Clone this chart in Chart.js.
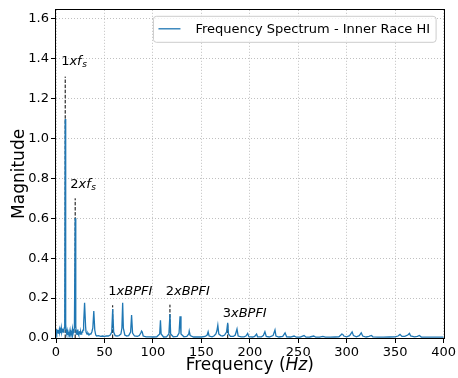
<!DOCTYPE html>
<html><head><meta charset="utf-8">
<script src="https://cdn.jsdelivr.net/npm/chart.js@4.4.1/dist/chart.umd.min.js"></script>
<style>html,body{margin:0;padding:0;background:#fff;}canvas{display:block;}</style>
</head><body>
<canvas id="c" width="458" height="378"></canvas>
<script>
// ---- data ----
const freqs = [0,0.5,1,1.5,2,2.5,3,3.5,4,4.5,5,5.5,6,6.5,7,7.5,8,8.5,9,9.5,10,10.5,11,11.5,12,12.5,13,13.5,14,14.5,15,15.5,16,16.5,17,17.5,18,18.5,19,19.8,20.4,21,21.5,22,22.5,23,23.5,24,24.5,25,25.5,26,26.5,27,27.5,28,28.5,29.5,30.5,31,32,33,34,35,36,37,38,39,40,41,42,44,46,48,50,52,54,56,57.5,58.5,59.5,61,63,65,67,68,68.8,69.5,71,73,75,77,78,79,81,84,86,87.5,88.3,89,90,93,97,100,104,107,107.8,108.5,111,114,116.5,117.6,118.3,121,125,127,128,129,132,135,137,137.5,138.5,142,146,150,154,156,157,158,161,163,165,166,167,168,170,172,174,176,177.2,178,180,183,185,186.8,188,191,194,196,197.8,199,203,205,207,208,212,214,215.6,217,220,224,226,227,230,234,236.4,238,242,245.7,248,252,256,258,262,266,268,272,275.5,278,283,288,292,294,295,296,297,300,303,305.6,307,310,313,315,316.5,320,323,325.5,327,332,338,344,350,353,355,357,360,363,364.8,366,370,373,375,377,382,388,394,400];
const mags = [0.03,0.045,0.02,0.035,0.04,0.025,0.03,0.045,0.03,0.04,0.025,0.05,0.03,0.04,0.045,0.03,0.04,0.05,0.06,1.098,0.07,0.03,0.02,0.035,0.015,0.03,0.02,0.01,0.025,0.04,0.02,0.03,0.035,0.015,0.045,0.02,0.03,0.04,0.05,0.60,0.06,0.02,0.03,0.035,0.015,0.03,0.02,0.025,0.035,0.02,0.03,0.02,0.025,0.03,0.035,0.04,0.07,0.177,0.06,0.03,0.02,0.025,0.015,0.02,0.02,0.03,0.05,0.135,0.04,0.015,0.01,0.012,0.008,0.01,0.008,0.01,0.01,0.015,0.03,0.145,0.03,0.012,0.01,0.012,0.02,0.05,0.177,0.05,0.015,0.01,0.012,0.03,0.115,0.025,0.01,0.008,0.012,0.025,0.035,0.03,0.01,0.006,0.006,0.005,0.006,0.02,0.089,0.02,0.005,0.006,0.02,0.12,0.02,0.006,0.008,0.025,0.109,0.02,0.006,0.008,0.02,0.035,0.012,0.005,0.006,0.005,0.008,0.015,0.031,0.01,0.006,0.01,0.02,0.035,0.064,0.02,0.012,0.01,0.015,0.03,0.076,0.02,0.008,0.008,0.015,0.045,0.01,0.006,0.006,0.01,0.023,0.007,0.005,0.008,0.02,0.006,0.006,0.012,0.031,0.008,0.005,0.012,0.04,0.01,0.005,0.008,0.026,0.006,0.005,0.01,0.004,0.004,0.012,0.004,0.005,0.01,0.004,0.004,0.008,0.004,0.004,0.005,0.006,0.015,0.02,0.018,0.01,0.006,0.012,0.031,0.012,0.006,0.012,0.026,0.01,0.005,0.008,0.013,0.006,0.004,0.004,0.005,0.006,0.01,0.018,0.008,0.008,0.015,0.023,0.01,0.006,0.008,0.013,0.005,0.004,0.004,0.004,0.004];
const seriesLabel = 'Frequency Spectrum - Inner Race HI';
const markerFreqs = [9.5, 19.8, 58.5, 117.6, 177.2];
const markerTops = [1.31, 0.70, 0.164, 0.167, 0.076];
const annoNum = ['1','2','1','2','3'];
const annoVar = ['xf','xf','xBPFI','xBPFI','xBPFI'];
const annoSub = ['s','s','','',''];
const annoX = [5.3, 14.7, 54, 113.2, 172];
const annoY = [1.37, 0.754, 0.218, 0.218, 0.103];
const xTicks = [0,50,100,150,200,250,300,350,400];
const yTicks = [0,0.2,0.4,0.6,0.8,1.0,1.2,1.4,1.6];
const xMin = 0, xMax = 400, yMin = 0, yMax = 1.645;

const FONT = "'DejaVu Sans'";

const framePlugin = {
  id: 'frame',
  afterDatasetsDraw(chart) {
    const {ctx, chartArea: a} = chart;
    ctx.save();
    ctx.strokeStyle = '#000';
    ctx.lineWidth = 1;
    ctx.strokeRect(Math.round(a.left) - 0.5, Math.round(a.top) - 0.5, Math.round(a.right - a.left) + 1, Math.round(a.bottom - a.top) + 1);
    ctx.restore();
  }
};

const annoPlugin = {
  id: 'anno',
  afterDatasetsDraw(chart) {
    const {ctx} = chart;
    const xs = chart.scales.x, ys = chart.scales.y;
    ctx.save();
    ctx.fillStyle = '#000';
    ctx.textBaseline = 'alphabetic';
    ctx.textAlign = 'left';
    for (let i = 0; i < annoNum.length; i++) {
      let px = xs.getPixelForValue(annoX[i]);
      const py = ys.getPixelForValue(annoY[i]);
      ctx.font = '13px ' + FONT;
      ctx.fillText(annoNum[i], px, py);
      px += ctx.measureText(annoNum[i]).width;
      ctx.font = 'italic 13px ' + FONT;
      ctx.fillText(annoVar[i], px, py);
      px += ctx.measureText(annoVar[i]).width;
      if (annoSub[i]) {
        ctx.font = 'italic 9px ' + FONT;
        ctx.fillText(annoSub[i], px + 0.5, py + 2.5);
      }
    }
    // axis titles
    const a = chart.chartArea;
    const cx = (a.left + a.right) / 2;
    const p1 = 'Frequency (', p2 = 'Hz', p3 = ')';
    ctx.font = '17px ' + FONT;
    const w1 = ctx.measureText(p1).width, w3 = ctx.measureText(p3).width;
    ctx.font = 'italic 17px ' + FONT;
    const w2 = ctx.measureText(p2).width;
    let tx = cx - (w1 + w2 + w3) / 2;
    const ty = 370;
    ctx.font = '17px ' + FONT;
    ctx.fillText(p1, tx, ty); tx += w1;
    ctx.font = 'italic 17px ' + FONT;
    ctx.fillText(p2, tx, ty); tx += w2;
    ctx.font = '17px ' + FONT;
    ctx.fillText(p3, tx, ty);
    ctx.save();
    ctx.translate(24, (a.top + a.bottom) / 2);
    ctx.rotate(-Math.PI / 2);
    ctx.textAlign = 'center';
    ctx.fillText('Magnitude', 0, 0);
    ctx.restore();
    ctx.restore();
  }
};

const legendPlugin = {
  id: 'myLegend',
  afterDraw(chart) {
    const {ctx, chartArea: a} = chart;
    ctx.save();
    ctx.font = '13px ' + FONT;
    const tw = ctx.measureText(seriesLabel).width;
    const right = a.right - 7.5, top = a.top + 6.5;
    const h = 26, w = tw + 48;
    const left = right - w;
    ctx.beginPath();
    if (ctx.roundRect) ctx.roundRect(left, top, w, h, 3); else ctx.rect(left, top, w, h);
    ctx.fillStyle = 'rgba(255,255,255,0.8)';
    ctx.fill();
    ctx.strokeStyle = '#cccccc';
    ctx.lineWidth = 1;
    ctx.stroke();
    ctx.beginPath();
    ctx.moveTo(left + 5, top + 12.5);
    ctx.lineTo(left + 27, top + 12.5);
    ctx.strokeStyle = '#1f77b4';
    ctx.lineWidth = 1.3;
    ctx.stroke();
    ctx.fillStyle = '#000';
    ctx.textBaseline = 'middle';
    ctx.fillText(seriesLabel, left + 42, top + 13);
    ctx.restore();
  }
};

const datasets = [{
  label: seriesLabel,
  data: freqs.map((f, i) => ({x: f, y: mags[i]})),
  borderColor: '#1f77b4',
  borderWidth: 1.3,
  pointRadius: 0,
  tension: 0,
  fill: false
}];
markerFreqs.forEach((f, i) => {
  datasets.push({
    label: 'marker' + i,
    data: [{x: f, y: 0}, {x: f, y: markerTops[i]}],
    borderColor: '#000',
    borderWidth: 1,
    borderDash: [3.5, 1.6],
    pointRadius: 0,
    fill: false
  });
});

const tickFont = {family: 'DejaVu Sans', size: 13};
new Chart(document.getElementById('c').getContext('2d'), {
  type: 'line',
  data: {datasets},
  options: {
    responsive: false,
    animation: false,
    devicePixelRatio: 1,
    layout: {padding: {left: 0, right: 13, top: 7, bottom: 0}},
    plugins: {legend: {display: false}, tooltip: {enabled: false}},
    scales: {
      x: {
        type: 'linear', min: xMin, max: xMax,
        afterFit: s => { s.height = 40; },
        afterBuildTicks: s => { s.ticks = xTicks.map(v => ({value: v})); },
        ticks: {font: tickFont, color: '#000', padding: 2, maxRotation: 0, autoSkip: false, callback: v => String(v)},
        grid: {color: '#b0b0b0', lineWidth: 0.8, tickColor: '#000', tickLength: 5, tickWidth: 1, tickBorderDash: []},
        border: {display: false, dash: [1, 2]}
      },
      y: {
        type: 'linear', min: yMin, max: yMax,
        afterFit: s => { s.width = 56; },
        afterBuildTicks: s => { s.ticks = yTicks.map(v => ({value: v})); },
        ticks: {font: tickFont, color: '#000', padding: 2, autoSkip: false, callback: v => v.toFixed(1)},
        grid: {color: '#b0b0b0', lineWidth: 0.8, tickColor: '#000', tickLength: 5, tickWidth: 1, tickBorderDash: []},
        border: {display: false, dash: [1, 2]}
      }
    }
  },
  plugins: [framePlugin, annoPlugin, legendPlugin]
});
</script>
</body></html>
